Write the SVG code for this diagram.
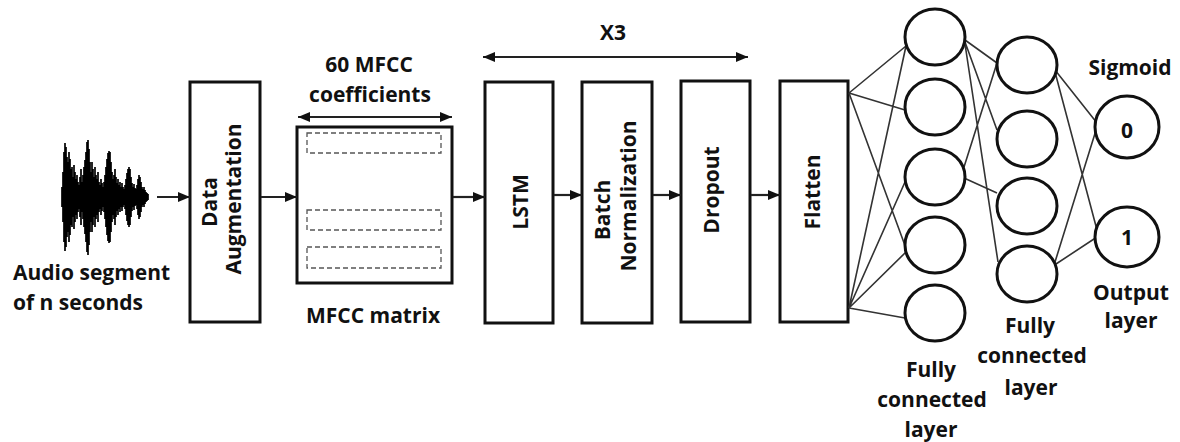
<svg xmlns="http://www.w3.org/2000/svg" width="1180" height="442" viewBox="0 0 1180 442">
<defs>
<style>
.t{font-family:"Open Sans","Liberation Sans",sans-serif;font-weight:700;font-size:21px;fill:#111;}
.c{text-anchor:middle;}
.box{fill:#fff;stroke:#111;stroke-width:3;}
.dash{fill:none;stroke:#555;stroke-width:1.3;stroke-dasharray:5 3;}
.neu{fill:#fff;stroke:#111;stroke-width:3;}
.arr{stroke:#222;stroke-width:2.2;fill:none;}
.net{stroke:#333;stroke-width:1.6;fill:none;}
.wave{stroke:#000;stroke-width:1.7;fill:none;}
</style>
<marker id="ah" viewBox="0 0 12 10" refX="12" refY="5" markerWidth="12" markerHeight="10" markerUnits="userSpaceOnUse" orient="auto-start-reverse">
<path d="M0,0 L12,5 L0,10 z" fill="#111"/>
</marker>
</defs>
<rect width="1180" height="442" fill="#fff"/>

<g id="audio">
<path class="wave" d="M62,187V207M63,172V222M64,152V242M65,143V251M66,147V247M67,157V237M68,162V232M69,152V242M70,159V235M71,169V225M72,167V227M73,177V217M74,165V229M75,172V222M76,179V215M77,175V219M78,182V212M79,185V209M80,177V217M81,169V225M82,182V212M83,175V219M84,167V227M85,160V234M86,152V242M87,142V252M88,140V255M89,149V245M90,162V232M91,172V222M92,162V232M93,169V225M94,177V217M95,167V227M96,175V219M97,179V215M98,172V222M99,182V212M100,185V209M101,179V215M102,183V211M103,187V207M104,182V212M105,175V219M106,167V227M107,159V235M108,153V241M109,151V243M110,152V242M111,162V232M112,172V222M113,179V215M114,175V219M115,169V225M116,177V217M117,183V211M118,179V215M119,185V209M120,182V212M121,187V207M122,183V211M123,187V207M124,189V205M125,185V209M126,179V215M127,173V221M128,169V225M129,167V227M130,169V225M131,177V217M132,183V211M133,187V207M134,184V210M135,188V206M136,189V205M137,185V209M138,179V215M139,175V219M140,177V217M141,182V212M142,187V207M143,189V205M144,187V207M145,190V204M146,192V202M147,193V201M148,194V200"/>
<text class="t" x="13" y="280">Audio segment</text>
<text class="t" x="13" y="310">of n seconds</text>
</g>

<g id="data-augmentation">
<rect class="box" x="190" y="82" width="70" height="240"/>
<text class="t c" transform="translate(217,202) rotate(-90)">Data</text>
<text class="t c" transform="translate(241,199) rotate(-90)">Augmentation</text>
</g>

<g id="mfcc-matrix">
<text class="t c" x="369" y="72">60 MFCC</text>
<text class="t c" x="370" y="102">coefficients</text>
<rect class="box" x="297" y="127" width="155" height="156"/>
<rect class="dash" x="307" y="133" width="134" height="20"/>
<rect class="dash" x="307" y="210" width="134" height="20"/>
<rect class="dash" x="307" y="247" width="134" height="21"/>
<text class="t c" x="373" y="323">MFCC matrix</text>
</g>

<g id="lstm">
<rect class="box" x="485" y="82" width="68" height="241"/>
<text class="t c" transform="translate(528,202) rotate(-90)">LSTM</text>
</g>

<g id="batch-normalization">
<rect class="box" x="582" y="82" width="70" height="241"/>
<text class="t c" transform="translate(610,210) rotate(-90)">Batch</text>
<text class="t c" transform="translate(636,196) rotate(-90)">Normalization</text>
</g>

<g id="dropout">
<rect class="box" x="681" y="81" width="69" height="241"/>
<text class="t c" transform="translate(719,190) rotate(-90)">Dropout</text>
</g>

<g id="flatten">
<rect class="box" x="780" y="81" width="68" height="241"/>
<text class="t c" transform="translate(820,192) rotate(-90)">Flatten</text>
</g>

<g id="repeat-x3">
<text class="t c" x="613" y="40">X3</text>
</g>

<g id="connectors">
<line class="arr" x1="157" y1="197" x2="190" y2="197" marker-end="url(#ah)"/>
<line class="arr" x1="261" y1="197" x2="297" y2="197" marker-end="url(#ah)"/>
<line class="arr" x1="453" y1="197" x2="485" y2="197" marker-end="url(#ah)"/>
<line class="arr" x1="554" y1="195" x2="582" y2="195" marker-end="url(#ah)"/>
<line class="arr" x1="653" y1="195" x2="681" y2="195" marker-end="url(#ah)"/>
<line class="arr" x1="751" y1="195" x2="780" y2="195" marker-end="url(#ah)"/>
<line class="arr" x1="298" y1="117" x2="452" y2="117" marker-start="url(#ah)" marker-end="url(#ah)"/>
<line class="arr" x1="483" y1="57" x2="748" y2="57" marker-start="url(#ah)" marker-end="url(#ah)"/>
<path class="net" d="M849,93L906,46M849,93L905,110M849,93L907,251M849,308L906,46M849,308L905,182M849,308L906,252M849,308L905,318"/>
<path class="net" d="M965,40L997,63M965,42L997,130M965,44L998,262M964,167L997,63M964,178L997,193"/>
<path class="net" d="M1055,70L1097,123M1055,72L1097,230M1055,262L1097,127M1056,264L1097,237"/>
</g>

<g id="fc-layer-1">
<ellipse class="neu" cx="935" cy="37" rx="30" ry="28"/>
<ellipse class="neu" cx="935" cy="107" rx="30" ry="28"/>
<ellipse class="neu" cx="935" cy="177" rx="30" ry="28"/>
<ellipse class="neu" cx="935" cy="245" rx="30" ry="28"/>
<ellipse class="neu" cx="935" cy="313" rx="30" ry="28"/>
<text class="t c" x="931" y="377">Fully</text>
<text class="t c" x="932" y="407">connected</text>
<text class="t c" x="931" y="437">layer</text>
</g>

<g id="fc-layer-2">
<ellipse class="neu" cx="1027" cy="65" rx="30" ry="28"/>
<ellipse class="neu" cx="1027" cy="139" rx="30" ry="28"/>
<ellipse class="neu" cx="1027" cy="206" rx="30" ry="28"/>
<ellipse class="neu" cx="1027" cy="274" rx="30" ry="28"/>
<text class="t c" x="1030" y="333">Fully</text>
<text class="t c" x="1032" y="363">connected</text>
<text class="t c" x="1031" y="395">layer</text>
</g>

<g id="output-layer">
<text class="t c" x="1130" y="75">Sigmoid</text>
<ellipse class="neu" cx="1127" cy="127" rx="32" ry="31"/>
<ellipse class="neu" cx="1127" cy="237" rx="32" ry="30"/>
<text class="t c" x="1127" y="138">0</text>
<text class="t c" x="1127" y="245">1</text>
<text class="t c" x="1131" y="300">Output</text>
<text class="t c" x="1131" y="328">layer</text>
</g>
</svg>
